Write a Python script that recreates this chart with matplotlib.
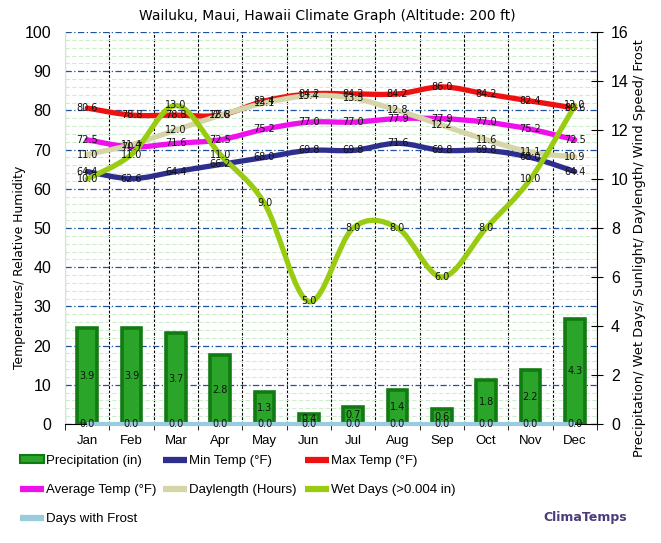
import numpy as np
import matplotlib
matplotlib.use("Agg")
import matplotlib.pyplot as plt
from matplotlib.path import Path
from matplotlib.patches import PathPatch, Patch
from matplotlib.lines import Line2D

months = ["Jan", "Feb", "Mar", "Apr", "May", "Jun", "Jul", "Aug", "Sep", "Oct", "Nov", "Dec"]
precip = [3.9, 3.9, 3.7, 2.8, 1.3, 0.4, 0.7, 1.4, 0.6, 1.8, 2.2, 4.3]
min_temp = [64.4, 62.6, 64.4, 66.2, 68.0, 69.8, 69.8, 71.6, 69.8, 69.8, 68.0, 64.4]
max_temp = [80.6, 78.8, 78.8, 78.8, 82.4, 84.2, 84.2, 84.2, 86.0, 84.2, 82.4, 80.6]
avg_temp = [72.5, 70.7, 71.6, 72.5, 75.2, 77.0, 77.0, 77.9, 77.9, 77.0, 75.2, 72.5]
daylength = [11.0, 11.4, 12.0, 12.6, 13.1, 13.4, 13.3, 12.8, 12.2, 11.6, 11.1, 10.9]
wet_days = [10.0, 11.0, 13.0, 11.0, 9.0, 5.0, 8.0, 8.0, 6.0, 8.0, 10.0, 13.0]
frost = [0.0] * 12

c_precip = "#2aa52a"
c_precip_edge = "#127a12"
c_min = "#2e2e8c"
c_max = "#ee1111"
c_avg = "#ee11ee"
c_day = "#d5d5a8"
c_wet = "#99cc11"
c_frost = "#99ccdd"


def smooth(ax, x, y, color, lw, z):
    # catmull-rom curve drawn as cubic bezier path
    x = np.asarray(x, float)
    y = np.asarray(y, float)
    pts = np.column_stack([x, y])
    ext = np.vstack([pts[0], pts, pts[-1]])
    verts = [pts[0]]
    codes = [Path.MOVETO]
    for i in range(len(pts) - 1):
        p0, p1, p2, p3 = ext[i], ext[i + 1], ext[i + 2], ext[i + 3]
        verts += [p1 + (p2 - p0) / 6, p2 - (p3 - p1) / 6, p2]
        codes += [Path.CURVE4] * 3
    patch = PathPatch(Path(verts, codes), facecolor="none", edgecolor=color,
                      lw=lw, capstyle="round", joinstyle="round", zorder=z,
                      transform=ax.transData)
    ax.add_patch(patch)


fig = plt.figure(figsize=(6.61, 5.43), dpi=100)
ax1 = fig.add_axes([65 / 661, 119 / 543, 532 / 661, 392 / 543])
ax2 = ax1.twinx()

x = np.arange(12)
ax1.set_xlim(-0.5, 11.5)
ax1.set_ylim(0, 100)
ax2.set_ylim(0, 16)

# grid
ax1.set_yticks(np.arange(0, 101, 10))
ax1.set_yticks(np.arange(0, 101, 2), minor=True)
ax1.set_xticks(x)
ax1.set_xticks(np.arange(-0.5, 12, 1), minor=True)
ax1.set_xticklabels(months, fontsize=9.5, family="Liberation Sans")
ax1.tick_params(axis="x", which="major", length=0, pad=8)
ax1.tick_params(axis="x", which="minor", length=4, direction="out", color="black")
ax1.tick_params(axis="y", which="both", length=0, labelsize=11.5, pad=10)
for t in ax1.get_yticklabels():
    t.set_family("Liberation Sans")
ax1.grid(which="minor", axis="y", color="#cdeecd", lw=0.8, ls=(0, (4, 2)))
ax1.grid(which="major", axis="y", color="#1b55a0", lw=0.9, ls=(0, (5, 2, 1, 2)))
ax1.grid(which="minor", axis="x", color="black", lw=0.8, ls=(0, (2.5, 1.5)))
ax1.set_axisbelow(True)
ax1.spines["top"].set_visible(False)
ax1.spines["left"].set_color("#c8eec8")
ax1.spines["right"].set_visible(False)
ax2.spines["top"].set_visible(False)
ax2.spines["left"].set_visible(False)
ax2.spines["bottom"].set_visible(False)
ax2.spines["right"].set_color("black")
ax2.set_yticks(np.arange(0, 17, 2))
ax2.tick_params(axis="y", length=8, direction="inout", labelsize=11.5, pad=6)
for t in ax2.get_yticklabels():
    t.set_family("Liberation Sans")

# bars on right axis
ax2.bar(x, precip, width=0.45, color=c_precip, edgecolor=c_precip_edge, linewidth=2.6, zorder=2)

# temperature curves (left axis)
smooth(ax1, x, min_temp, c_min, 3.8, 3)
smooth(ax1, x, max_temp, c_max, 3.8, 3)
smooth(ax1, x, avg_temp, c_avg, 3.8, 3)

# right-axis curves
smooth(ax2, x, daylength, c_day, 3.8, 3)
smooth(ax2, x, wet_days, c_wet, 3.8, 4)
ax2.plot(x, frost, color=c_frost, lw=3, zorder=3, clip_on=False, solid_capstyle="butt")

# data labels
lab = dict(fontsize=7, family="DejaVu Sans", color="#111111", ha="center", va="center", zorder=10, clip_on=False)
for i in range(12):
    for series in (min_temp, max_temp, avg_temp):
        ax2.text(x[i], series[i], "%.1f" % series[i], transform=ax1.transData, **lab)
    ax2.text(x[i], daylength[i], "%.1f" % daylength[i], **lab)
    ax2.text(x[i], wet_days[i], "%.1f" % wet_days[i], **lab)
    ax2.text(x[i], precip[i] / 2, "%.1f" % precip[i], **lab)
    ax2.text(x[i], frost[i], "%.1f" % frost[i], **lab)

# titles and axis labels
fig.text(327 / 661, 1 - 16 / 543, "Wailuku, Maui, Hawaii Climate Graph (Altitude: 200 ft)",
         ha="center", va="center", fontsize=10, family="DejaVu Sans")
fig.text(20 / 661, 1 - 267 / 543, "Temperatures/ Relative Humidity", rotation=90,
         ha="center", va="center", fontsize=8.9, family="DejaVu Sans")
fig.text(640 / 661, 1 - 248 / 543, "Precipitation/ Wet Days/ Sunlight/ Daylength/ Wind Speed/ Frost",
         rotation=90, ha="center", va="center", fontsize=9.4, family="DejaVu Sans")
fig.text(585 / 661, 1 - 517 / 543, "ClimaTemps", ha="center", va="center",
         fontsize=9, fontweight="bold", color="#4b3b7b", family="DejaVu Sans")

# legend in three columns
def key(c):
    return Line2D([], [], color=c, lw=4.5, solid_capstyle="butt")

cols = [
    ([Patch(facecolor=c_precip, edgecolor=c_precip_edge, lw=1.5), key(c_avg), key(c_frost)],
     ["Precipitation (in)", "Average Temp (°F)", "Days with Frost"], 20),
    ([key(c_min), key(c_day)], ["Min Temp (°F)", "Daylength (Hours)"], 163),
    ([key(c_max), key(c_wet)], ["Max Temp (°F)", "Wet Days (>0.004 in)"], 305),
]
for handles, labels, px in cols:
    fig.legend(handles, labels, loc="upper left", bbox_to_anchor=(px / 661, 1 - 455 / 543),
               frameon=False, borderpad=0, borderaxespad=0, handlelength=1.8,
               handleheight=0.55, handletextpad=0.15, labelspacing=1.3,
               prop={"family": "Liberation Sans", "size": 9.5})

fig.savefig("out.png", dpi=100)
